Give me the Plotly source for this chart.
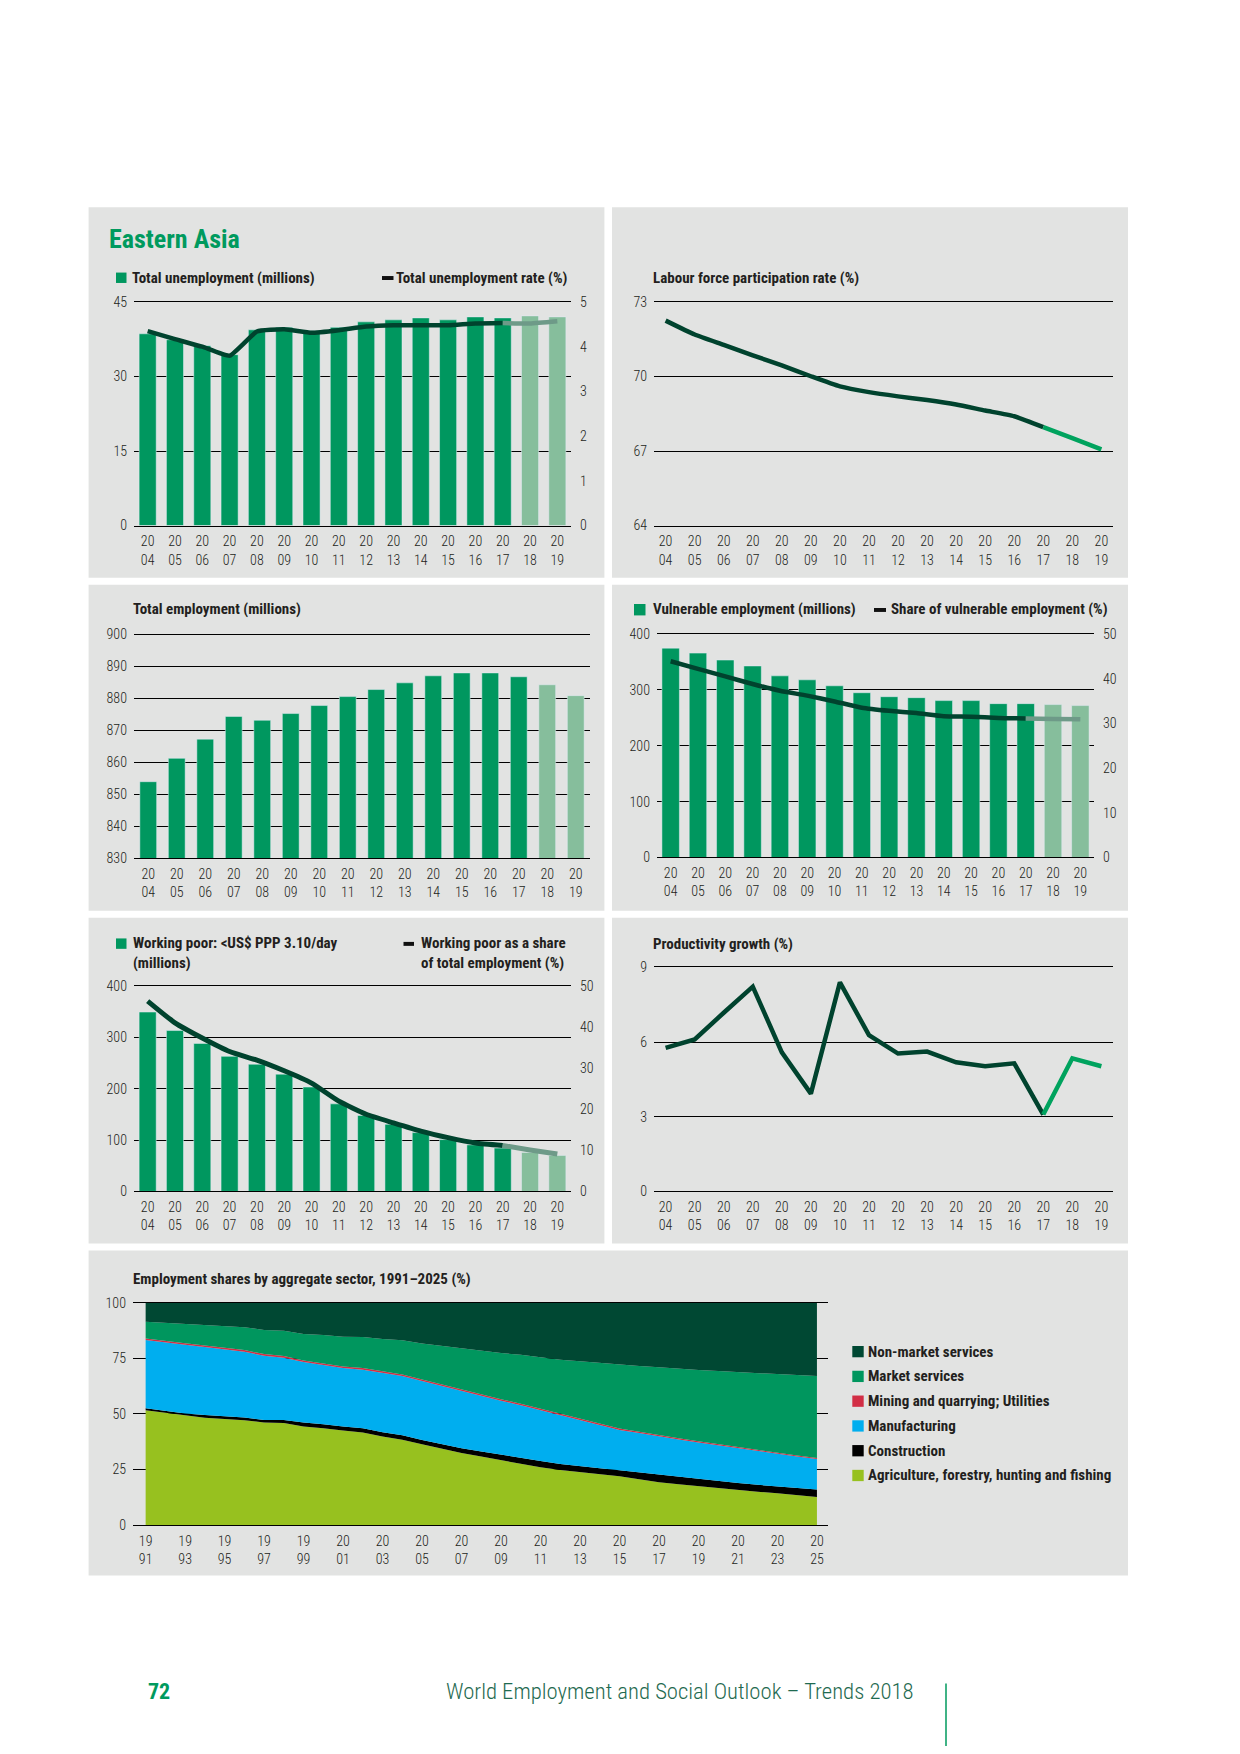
import plotly.graph_objects as go

W, H = 1240, 1754
FONT = "Roboto Condensed, Open Sans Condensed, DejaVu Sans Condensed, sans-serif"

# ------------------------------------------------------------------ data
years = [2004, 2005, 2006, 2007, 2008, 2009, 2010, 2011, 2012, 2013, 2014, 2015, 2016, 2017, 2018, 2019]
year_labels_top = ["20", "20", "20", "20", "20", "20", "20", "20", "20", "20", "20", "20", "20", "20", "20", "20"]
year_labels_bottom = ["04", "05", "06", "07", "08", "09", "10", "11", "12", "13", "14", "15", "16", "17", "18", "19"]
last_actual_year = 2017

unemployment_millions = [38.6, 37.4, 36.2, 34.4, 39.4, 39.9, 39.2, 39.9, 41.0, 41.4, 41.8, 41.4, 42.0, 41.8, 42.2, 42.0]
unemployment_rate = [4.35, 4.17, 4.00, 3.80, 4.34, 4.39, 4.31, 4.37, 4.45, 4.48, 4.48, 4.48, 4.52, 4.53, 4.52, 4.57]
labour_force_participation = [72.25, 71.69, 71.27, 70.85, 70.45, 70.01, 69.60, 69.37, 69.20, 69.05, 68.87, 68.63, 68.40, 67.96, 67.52, 67.07]
total_employment = [854.0, 861.3, 867.3, 874.4, 873.2, 875.3, 877.8, 880.6, 882.8, 884.9, 887.1, 888.0, 888.0, 886.8, 884.3, 880.9]
vulnerable_millions = [374.6, 365.7, 353.3, 342.7, 325.0, 317.9, 307.2, 294.8, 287.7, 286.0, 280.7, 280.7, 275.3, 275.3, 273.6, 271.8]
vulnerable_share = [43.9, 42.2, 40.5, 38.8, 37.3, 36.2, 34.9, 33.5, 32.8, 32.3, 31.6, 31.5, 31.2, 31.1, 31.0, 30.9]
working_poor_millions = [349.8, 313.7, 288.6, 263.4, 248.0, 228.7, 203.5, 170.7, 148.1, 130.8, 114.7, 101.1, 90.8, 84.4, 76.0, 70.2]
working_poor_share = [46.4, 41.1, 37.4, 34.1, 32.0, 29.4, 26.4, 22.0, 18.8, 16.7, 14.7, 13.1, 11.8, 11.2, 10.1, 9.1]
productivity_growth = [5.77, 6.11, 7.18, 8.23, 5.59, 3.93, 8.40, 6.28, 5.54, 5.62, 5.19, 5.03, 5.15, 3.09, 5.35, 5.03]

ticks_unemp_left = [0, 15, 30, 45]
ticks_unemp_right = [0, 1, 2, 3, 4, 5]
ticks_lfpr = [64, 67, 70, 73]
ticks_employment = [830, 840, 850, 860, 870, 880, 890, 900]
ticks_millions_400 = [0, 100, 200, 300, 400]
ticks_share_50 = [0, 10, 20, 30, 40, 50]
ticks_productivity = [0, 3, 6, 9]
ticks_sector = [0, 25, 50, 75, 100]

sector_years = list(range(1991, 2026))
sector_tick_years = [1991, 1993, 1995, 1997, 1999, 2001, 2003, 2005, 2007, 2009, 2011, 2013, 2015, 2017, 2019, 2021, 2023, 2025]
sector_labels_top = ["19", "19", "19", "19", "19", "20", "20", "20", "20", "20", "20", "20", "20", "20", "20", "20", "20", "20"]
sector_labels_bottom = ["91", "93", "95", "97", "99", "01", "03", "05", "07", "09", "11", "13", "15", "17", "19", "21", "23", "25"]

agriculture = [51.7, 50.5, 49.2, 48.3, 47.7, 47.2, 46.1, 45.9, 44.3, 43.6, 42.5, 41.6, 39.8, 38.4, 36.3, 34.2, 32.4, 30.8,
               29.1, 27.5, 26.0, 24.8, 23.8, 22.9, 22.0, 20.6, 19.3, 18.4, 17.5, 16.6, 15.8, 15.0, 14.3, 13.5, 12.6]
construction = [0.8, 0.9, 1.0, 1.2, 1.3, 1.2, 1.2, 1.4, 1.8, 1.8, 1.8, 1.9, 2.0, 2.0, 2.0, 2.1, 2.2, 2.3,
                2.5, 2.7, 2.8, 2.7, 2.6, 2.6, 2.7, 3.1, 3.6, 3.5, 3.5, 3.3, 3.1, 3.1, 3.1, 3.2, 3.4]
manufacturing = [30.7, 30.9, 30.9, 30.6, 30.2, 29.6, 28.9, 28.0, 27.2, 26.7, 26.3, 26.4, 26.6, 26.6, 26.5, 26.2, 25.7, 25.0,
                 24.3, 23.7, 22.9, 21.9, 20.9, 19.5, 18.1, 17.7, 17.2, 16.6, 16.1, 15.9, 15.7, 15.1, 14.5, 14.1, 13.7]
mining_utilities = [0.7, 0.7, 0.7, 0.7, 0.7, 0.7, 0.7, 0.7, 0.7, 0.7, 0.7, 0.7, 0.7, 0.7, 0.7, 0.7, 0.7, 0.7,
                    0.7, 0.7, 0.7, 0.6, 0.6, 0.6, 0.6, 0.6, 0.6, 0.6, 0.6, 0.6, 0.6, 0.6, 0.5, 0.5, 0.5]
market_services = [7.6, 8.0, 8.5, 9.1, 9.6, 10.3, 10.9, 11.4, 11.9, 12.7, 13.4, 14.0, 14.6, 15.4, 16.2, 17.4, 18.6, 19.7,
                   20.8, 22.0, 23.1, 24.4, 25.8, 27.3, 28.8, 29.6, 30.3, 31.2, 32.1, 32.9, 33.7, 34.7, 35.7, 36.2, 36.8]
non_market_services = [8.5, 9.0, 9.7, 10.1, 10.5, 11.0, 12.2, 12.6, 14.1, 14.5, 15.3, 15.4, 16.3, 16.9, 18.3, 19.4, 20.4, 21.5,
                       22.6, 23.4, 24.5, 25.6, 26.3, 27.1, 27.8, 28.4, 29.0, 29.7, 30.2, 30.7, 31.1, 31.5, 31.9, 32.5, 33.0]

sector_names = ["Agriculture, forestry, hunting and fishing", "Construction", "Manufacturing",
                "Mining and quarrying; Utilities", "Market services", "Non-market services"]

# ------------------------------------------------------------------ style
BG = "#E2E3E2"
GREEN = "#00975F"
LIGHT_GREEN = "#86BE9C"
DARK = "#00432E"
PROJ_GREY = "#6E9A88"
BRIGHT = "#00A35E"
TITLE_GREEN = "#009A5E"
TXT = "#231F20"
SECTOR_COLORS = ["#97C11F", "#000000", "#00AEEF", "#D22E45", "#00965E", "#004833"]
TICKFONT = dict(family=FONT, size=14, color=TXT, weight=300)


def dx(a, b):
    return [a / W, b / W]


def dy(top, bottom):
    return [1 - bottom / H, 1 - top / H]


layout = {}
fig = go.Figure()


def x_axis(num, anchor, dom, rng, tickvals, top, bottom, stand=3):
    name = "xaxis" if num == 1 else f"xaxis{num}"
    layout[name] = dict(domain=dom, anchor=anchor, range=rng, tickmode="array", tickvals=tickvals,
                        ticktext=[f"{a}<br>{b}" for a, b in zip(top, bottom)],
                        ticks="", showgrid=False, zeroline=False, fixedrange=True, tickfont=TICKFONT,
                        ticklabelstandoff=stand, showline=True, mirror=True, linecolor="black", linewidth=1)


def y_axis(name, anchor, dom, rng, tickvals, side="left", overlay=None, grid=True, stand=6):
    d = dict(domain=dom, anchor=anchor, range=rng, tickmode="array", tickvals=tickvals, ticks="",
             showgrid=grid, gridcolor="black", gridwidth=1, zeroline=False, showline=False,
             side=side, tickfont=TICKFONT, ticklabelstandoff=stand, fixedrange=True)
    if overlay:
        d["overlaying"] = overlay
    layout[name] = d


bar_colors = [GREEN if y <= last_actual_year else LIGHT_GREEN for y in years]
i17 = years.index(last_actual_year)
act = slice(0, i17 + 1)
proj = slice(i17, len(years))

# ---- panel 1: unemployment
x_axis(1, "y", dx(134, 571), [2003.5, 2019.5], years, year_labels_top, year_labels_bottom)
y_axis("yaxis", "x", dy(296.7, 522.3), [0, 45], ticks_unemp_left)
y_axis("yaxis2", "x", dy(296.7, 522.3), [0, 5], ticks_unemp_right, side="right", overlay="y", grid=False, stand=8)
fig.add_bar(x=years, y=unemployment_millions, marker_color=bar_colors, width=0.625, xaxis="x", yaxis="y")
fig.add_scatter(x=years[act], y=unemployment_rate[act], mode="lines", xaxis="x", yaxis="y2",
                line=dict(color=DARK, width=4.5, shape="spline", smoothing=0.4))
fig.add_scatter(x=years[proj], y=unemployment_rate[proj], mode="lines", xaxis="x", yaxis="y2",
                line=dict(color=PROJ_GREY, width=4.5, shape="spline", smoothing=0.4))

# ---- panel 2: labour force participation
x_axis(2, "y3", dx(654, 1113), [2003.6, 2019.4], years, year_labels_top, year_labels_bottom)
y_axis("yaxis3", "x2", dy(296.7, 522.3), [64, 73], ticks_lfpr)
fig.add_scatter(x=years[act], y=labour_force_participation[act], mode="lines", xaxis="x2", yaxis="y3",
                line=dict(color=DARK, width=4.5, shape="spline", smoothing=0.5))
fig.add_scatter(x=years[proj], y=labour_force_participation[proj], mode="lines", xaxis="x2", yaxis="y3",
                line=dict(color=BRIGHT, width=4.5, shape="spline", smoothing=0.5))

# ---- panel 3: total employment
x_axis(3, "y4", dx(134, 590), [2003.5, 2019.5], years, year_labels_top, year_labels_bottom)
y_axis("yaxis4", "x3", dy(632.3, 858.3), [830, 900], ticks_employment)
fig.add_bar(x=years, y=total_employment, marker_color=bar_colors, width=0.59, xaxis="x3", yaxis="y4")

# ---- panel 4: vulnerable employment
x_axis(4, "y5", dx(657, 1094), [2003.5, 2019.5], years, year_labels_top, year_labels_bottom)
y_axis("yaxis5", "x4", dy(631.7, 857.3), [0, 400], ticks_millions_400)
y_axis("yaxis6", "x4", dy(631.7, 857.3), [0, 50], ticks_share_50, side="right", overlay="y5", grid=False, stand=8)
fig.add_bar(x=years, y=vulnerable_millions, marker_color=bar_colors, width=0.64, xaxis="x4", yaxis="y5")
fig.add_scatter(x=years[act], y=vulnerable_share[act], mode="lines", xaxis="x4", yaxis="y6",
                line=dict(color=DARK, width=4.5, shape="spline", smoothing=0.5))
fig.add_scatter(x=years[proj], y=vulnerable_share[proj], mode="lines", xaxis="x4", yaxis="y6",
                line=dict(color=PROJ_GREY, width=4.5, shape="spline", smoothing=0.5))

# ---- panel 5: working poor
x_axis(5, "y7", dx(134, 571), [2003.5, 2019.5], years, year_labels_top, year_labels_bottom)
y_axis("yaxis7", "x5", dy(987.3, 1194.3), [0, 400], ticks_millions_400)
y_axis("yaxis8", "x5", dy(987.3, 1194.3), [0, 50], ticks_share_50, side="right", overlay="y7", grid=False, stand=8)
fig.add_bar(x=years, y=working_poor_millions, marker_color=bar_colors, width=0.625, xaxis="x5", yaxis="y7")
fig.add_scatter(x=years[act], y=working_poor_share[act], mode="lines", xaxis="x5", yaxis="y8",
                line=dict(color=DARK, width=5, shape="spline", smoothing=0.5))
fig.add_scatter(x=years[proj], y=working_poor_share[proj], mode="lines", xaxis="x5", yaxis="y8",
                line=dict(color=PROJ_GREY, width=5, shape="spline", smoothing=0.5))

# ---- panel 6: productivity growth
x_axis(6, "y9", dx(654, 1113), [2003.6, 2019.4], years, year_labels_top, year_labels_bottom)
y_axis("yaxis9", "x6", dy(968.3, 1194.3), [0, 9], ticks_productivity)
fig.add_scatter(x=years[act], y=productivity_growth[act], mode="lines", xaxis="x6", yaxis="y9",
                line=dict(color=DARK, width=4.5))
fig.add_scatter(x=years[proj], y=productivity_growth[proj], mode="lines", xaxis="x6", yaxis="y9",
                line=dict(color=BRIGHT, width=4.5))

# ---- panel 7: employment shares by sector
x_axis(7, "y10", dx(133, 828), [1990.36, 2025.56], sector_tick_years, sector_labels_top, sector_labels_bottom)
y_axis("yaxis10", "x7", dy(1306.7, 1531), [0, 100], ticks_sector)
for name, vals, col in zip(sector_names,
                           [agriculture, construction, manufacturing, mining_utilities, market_services, non_market_services],
                           SECTOR_COLORS):
    fig.add_scatter(x=sector_years, y=vals, name=name, stackgroup="sectors", mode="lines",
                    line=dict(width=0, color=col), fillcolor=col, xaxis="x7", yaxis="y10")

# ------------------------------------------------------------------ decorations
shapes = []
panels = [(88.6, 201, 604.4, 575), (612, 201, 1128, 575),
          (88.6, 582, 604.4, 911), (612, 582, 1128, 911),
          (88.6, 918, 604.4, 1247), (612, 918, 1128, 1247),
          (88.6, 1254, 1128, 1582)]
for (a, t, b, bt) in panels:
    shapes.append(dict(type="rect", xref="paper", yref="paper", x0=a / W, x1=b / W, y0=1 - bt / H, y1=1 - t / H,
                       fillcolor=BG, line=dict(width=0), layer="below"))


def rect(a, t, b, bt, color):
    shapes.append(dict(type="rect", xref="paper", yref="paper", x0=a / W, x1=b / W, y0=1 - bt / H, y1=1 - t / H,
                       fillcolor=color, line=dict(width=0), layer="above"))


annotations = []


def label(x, y, text, size=15, color=TXT, bold=True, xanchor="left", align="left", weight=None):
    f = dict(family=FONT, size=size, color=color)
    if weight:
        f["weight"] = weight
    annotations.append(dict(xref="paper", yref="paper", x=x / W, y=1 - y / H, text=(f"<b>{text}</b>" if bold else text),
                            showarrow=False, xanchor=xanchor, yanchor="middle", align=align, font=f))


label(107, 233.5, "Eastern Asia", size=26, color=TITLE_GREEN)

rect(116, 267, 126.5, 277.5, GREEN)
label(130, 272, "Total unemployment (millions)")
rect(382, 270.5, 393.5, 274.5, "#111111")
label(394.5, 272, "Total unemployment rate (%)")

label(651, 272, "Labour force participation rate (%)")
label(131, 607, "Total employment (millions)")

rect(634, 601.5, 645.5, 613, GREEN)
label(651, 607, "Vulnerable employment (millions)")
rect(874, 605.5, 886, 609.5, "#111111")
label(889.5, 607, "Share of vulnerable employment (%)")

rect(116, 939, 126.5, 949.5, GREEN)
label(131, 953.5, "Working poor: &lt;US$ PPP 3.10/day<br>(millions)")
rect(403.5, 942.5, 414, 946.5, "#111111")
label(419, 953.5, "Working poor as a share<br>of total employment (%)")

label(651, 944.3, "Productivity growth (%)")
label(131, 1282.7, "Employment shares by aggregate sector, 1991–2025 (%)")

legend_rows = list(zip(sector_names, SECTOR_COLORS))[::-1]
for k, (name, col) in enumerate(legend_rows):
    yc = 1356 + 25 * k
    rect(852.3, yc - 5.7, 863.7, yc + 5.7, col)
    label(866.5, yc, name)

label(146, 1699, "72", size=22, color=TITLE_GREEN)
label(916, 1699, "World Employment and Social Outlook – Trends 2018", size=22.7, color="#1F6A50", bold=False,
      xanchor="right", weight=300)
shapes.append(dict(type="line", xref="paper", yref="paper", x0=946 / W, x1=946 / W, y0=0, y1=1 - 1691 / H,
                   line=dict(color=TITLE_GREEN, width=1.5)))

fig.update_layout(width=W, height=H, margin=dict(l=0, r=0, t=0, b=0), showlegend=False,
                  paper_bgcolor="white", plot_bgcolor="rgba(0,0,0,0)", shapes=shapes, annotations=annotations,
                  font=dict(family=FONT, color=TXT), **layout)

# the page itself gets no default body margin, so the figure sits at the window's top-left corner
fig.write_html("out.html", config={"displayModeBar": False, "staticPlot": True},
               post_script="document.body.style.margin='0';")
